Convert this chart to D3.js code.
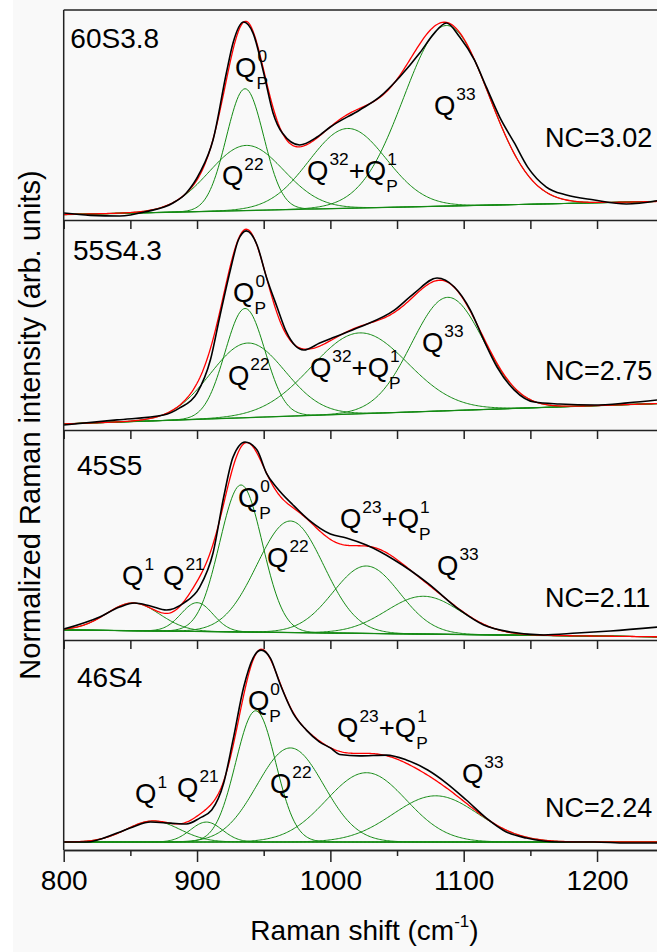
<!DOCTYPE html>
<html>
<head>
<meta charset="utf-8">
<script src="https://cdn.jsdelivr.net/npm/d3@7"></script>
<style>
  html, body { margin: 0; padding: 0; background: #fff; }
  svg { display: block; font-family: "Liberation Sans", Arial, sans-serif; }
</style>
</head>
<body>
<div id="chart"></div>
<script>
// Sample names and network connectivity per panel (top to bottom).
const samples = ["60S3.8", "55S4.3", "45S5", "46S4"];
const ncLabels = ["NC=3.02", "NC=2.75", "NC=2.11", "NC=2.24"];
const xTicks = [800, 900, 1000, 1100, 1200];
const xMinorTicks = [850, 950, 1050, 1150, 1250];

// Measured spectra: [Raman shift, normalized intensity].
const measured60 = [[800,0.033],[820,0.022],[842,0.019],[862,0.04],[882,0.081],[892,0.129],[902,0.224],[912,0.381],[922,0.70],[927,0.843],[935,0.943],[942,0.89],[950,0.70],[957,0.51],[964,0.414],[977,0.357],[990,0.395],[1000,0.443],[1022,0.524],[1037,0.586],[1052,0.681],[1067,0.795],[1078,0.89],[1087,0.938],[1097,0.871],[1108,0.762],[1117,0.633],[1127,0.49],[1138,0.367],[1148,0.252],[1162,0.157],[1177,0.119],[1198,0.095],[1222,0.076],[1250,0.097]];
const measured55 = [[800,0.024],[840,0.048],[875,0.071],[887,0.105],[900,0.176],[910,0.333],[917,0.538],[925,0.762],[931,0.905],[937,0.948],[945,0.881],[952,0.729],[960,0.586],[967,0.467],[980,0.381],[992,0.414],[1000,0.435],[1022,0.49],[1048,0.571],[1063,0.652],[1080,0.724],[1093,0.681],[1105,0.571],[1115,0.429],[1125,0.30],[1138,0.19],[1153,0.133],[1172,0.124],[1198,0.119],[1223,0.129],[1250,0.146]];
const measured45 = [[800,0.052],[827,0.11],[842,0.157],[853,0.176],[865,0.162],[877,0.143],[890,0.176],[902,0.252],[912,0.414],[920,0.681],[927,0.871],[936,0.943],[945,0.905],[952,0.795],[960,0.724],[972,0.643],[984,0.571],[1000,0.505],[1012,0.486],[1027,0.452],[1048,0.381],[1073,0.271],[1097,0.143],[1115,0.071],[1135,0.038],[1160,0.024],[1185,0.033],[1210,0.043],[1250,0.064]];
const measured46 = [[800,0.038],[817,0.038],[840,0.081],[852,0.11],[865,0.133],[880,0.128],[892,0.124],[902,0.152],[911,0.19],[920,0.319],[927,0.524],[935,0.776],[942,0.914],[948,0.952],[955,0.914],[962,0.795],[972,0.652],[982,0.571],[992,0.514],[1000,0.486],[1007,0.455],[1022,0.448],[1042,0.452],[1057,0.429],[1073,0.381],[1087,0.319],[1102,0.238],[1117,0.152],[1132,0.086],[1147,0.057],[1172,0.038],[1198,0.038],[1222,0.033],[1250,0.033]];

// Linear background: intensity at 800 and at 1250 cm-1.
const baselines = [[0.026, 0.089], [0.029, 0.127], [0.048, 0.015], [0.038, 0.038]];

// Fitted Gaussian bands: [centre (cm-1), height above background, sigma (cm-1)].
const bands60 = [[936, 0.58, 14], [937, 0.31, 28], [1013, 0.38, 29], [1087, 0.86, 32]];
const bands55 = [[936, 0.52, 15], [938, 0.355, 28], [1022, 0.385, 36], [1088, 0.54, 27]];
const bands45 = [[852, 0.132, 20], [900, 0.137, 12], [933, 0.70, 16], [970, 0.531, 25], [1027, 0.321, 25], [1070, 0.18, 28]];
const bands46 = [[867, 0.1, 20], [907, 0.095, 12], [944, 0.625, 15], [970, 0.448, 25], [1027, 0.33, 30], [1079, 0.22, 32]];

// Band assignments (^{} superscript, _{} subscript).
const bandNames60 = ["Q^{0}_{P}", "Q^{22}", "Q^{32}+Q^{1}_{P}", "Q^{33}"];
const bandNames55 = ["Q^{0}_{P}", "Q^{22}", "Q^{32}+Q^{1}_{P}", "Q^{33}"];
const bandNames45 = ["Q^{1}", "Q^{21}", "Q^{0}_{P}", "Q^{22}", "Q^{23}+Q^{1}_{P}", "Q^{33}"];
const bandNames46 = ["Q^{1}", "Q^{21}", "Q^{0}_{P}", "Q^{22}", "Q^{23}+Q^{1}_{P}", "Q^{33}"];

// Where the text sits, in data coordinates (left edge, baseline).
const bandNamePos = [
    [[928.5, 0.681], [918.7, 0.167], [982.5, 0.19], [1077.7, 0.5]],
    [[927, 0.61], [923.2, 0.214], [984.7, 0.252], [1068.7, 0.371]],
    [[843.8, 0.262], [874.5, 0.262], [930.7, 0.633], [952.5, 0.348], [1007.2, 0.533], [1080, 0.31]],
    [[853.5, 0.224], [885, 0.252], [938.2, 0.667], [954.7, 0.271], [1005, 0.538], [1098.7, 0.319]]
];
const samplePos = [[805, 0.819], [807, 0.81], [810, 0.786], [810, 0.776]];
const ncPos = [[1161, 0.348], [1161, 0.238], [1161, 0.157], [1161, 0.157]];

const panels = [
    { measured: measured60, bands: bands60, names: bandNames60 },
    { measured: measured55, bands: bands55, names: bandNames55 },
    { measured: measured45, bands: bands45, names: bandNames45 },
    { measured: measured46, bands: bands46, names: bandNames46 }
];

// Chart dimensions.
const width = 657;
const height = 952;
const marginLeft = 63.7;
const panelTop = 10;
const panelHeight = 210;
const plotWidth = 600;
const green = "#138a13";
const frameColor = "#222";

const x = d3.scaleLinear().domain([800, 1250]).range([marginLeft, marginLeft + plotWidth]);

const svg = d3.select("#chart").append("svg")
    .attr("width", width)
    .attr("height", height);

svg.append("rect")
    .attr("x", 13).attr("y", 0)
    .attr("width", width - 13).attr("height", height)
    .attr("fill", "#f9f9f9");

// Draw text with superscripts / subscripts.
function richLabel(g, px, py, markup, size) {
    const parts = markup.match(/\^\{[^}]*\}(_\{[^}]*\})?|_\{[^}]*\}|[^^_]+/g);
    let cx = px;
    parts.forEach(part => {
        if (part[0] === "^" || part[0] === "_") {
            const sup = part.match(/\^\{([^}]*)\}/);
            const sub = part.match(/_\{([^}]*)\}/);
            let w = 0;
            if (sup) {
                const t = g.append("text")
                    .attr("x", cx + 1).attr("y", py - size * 0.55)
                    .attr("font-size", size * 0.63)
                    .text(sup[1]);
                w = Math.max(w, t.node().getComputedTextLength());
            }
            if (sub) {
                const t = g.append("text")
                    .attr("x", cx).attr("y", py + size * 0.44)
                    .attr("font-size", size * 0.63)
                    .text(sub[1]);
                w = Math.max(w, t.node().getComputedTextLength());
            }
            cx += w + 1;
        } else {
            const t = g.append("text")
                .attr("x", cx).attr("y", py)
                .attr("font-size", size)
                .text(part);
            cx += t.node().getComputedTextLength();
        }
    });
}

const grid = d3.range(800, 1250.5, 1);
const gauss = (b, v) => b[1] * Math.exp(-((v - b[0]) ** 2) / (2 * b[2] * b[2]));

panels.forEach((p, i) => {
    const top = panelTop + i * panelHeight;
    const bottom = top + panelHeight;
    const y = d3.scaleLinear().domain([0, 1]).range([bottom, top]);
    const bl = baselines[i];
    const base = v => bl[0] + (v - 800) / 450 * (bl[1] - bl[0]);

    svg.append("clipPath").attr("id", "clip" + i)
        .append("rect")
        .attr("x", marginLeft).attr("y", top)
        .attr("width", plotWidth).attr("height", panelHeight);

    const g = svg.append("g").attr("clip-path", `url(#clip${i})`);
    const line = d3.line().x(d => x(d[0])).y(d => y(d[1]));

    // Fitted components on top of the background.
    p.bands.forEach(b => {
        g.append("path")
            .datum(grid.map(v => [v, base(v) + gauss(b, v)]))
            .attr("d", line)
            .attr("fill", "none")
            .attr("stroke", green)
            .attr("stroke-width", 1);
    });

    // Background line.
    g.append("path")
        .datum([[800, base(800)], [1250, base(1250)]])
        .attr("d", line)
        .attr("fill", "none")
        .attr("stroke", green)
        .attr("stroke-width", 1.2);

    // Sum of the fit.
    g.append("path")
        .datum(grid.map(v => [v, base(v) + d3.sum(p.bands, b => gauss(b, v))]))
        .attr("d", line)
        .attr("fill", "none")
        .attr("stroke", "#ff0000")
        .attr("stroke-width", 1.3);

    // Measured spectrum.
    g.append("path")
        .datum(p.measured)
        .attr("d", line.curve(d3.curveMonotoneX))
        .attr("fill", "none")
        .attr("stroke", "#000")
        .attr("stroke-width", 1.6);

    // Texts.
    const tg = svg.append("g").attr("fill", "#000");
    tg.append("text")
        .attr("x", x(samplePos[i][0])).attr("y", y(samplePos[i][1]))
        .attr("font-size", 28)
        .text(samples[i]);
    tg.append("text")
        .attr("x", x(ncPos[i][0])).attr("y", y(ncPos[i][1]))
        .attr("font-size", 27)
        .text(ncLabels[i]);
    p.names.forEach((name, k) => {
        const pos = bandNamePos[i][k];
        richLabel(tg, x(pos[0]), y(pos[1]), name, 27.5);
    });

    // Panel separator with outward ticks (upper panels) or the real x axis.
    if (i < panels.length - 1) {
        svg.append("g")
            .attr("transform", `translate(0,${bottom})`)
            .call(d3.axisBottom(x).tickValues(xTicks.concat(xMinorTicks)).tickSize(9).tickSizeOuter(0).tickFormat(""))
            .call(ax => ax.selectAll("path, line").attr("stroke", frameColor).attr("stroke-width", 1.5));
    } else {
        svg.append("g")
            .attr("transform", `translate(0,${bottom})`)
            .call(d3.axisBottom(x).tickValues(xMinorTicks).tickSize(6).tickSizeOuter(0).tickFormat(""))
            .call(ax => ax.selectAll("path, line").attr("stroke", frameColor).attr("stroke-width", 1.5));
        svg.append("g")
            .attr("transform", `translate(0,${bottom})`)
            .call(d3.axisBottom(x).tickValues(xTicks).tickSize(12).tickSizeOuter(0).tickPadding(8).tickFormat(d3.format("d")))
            .call(ax => ax.selectAll("path, line").attr("stroke", frameColor).attr("stroke-width", 1.5))
            .call(ax => ax.selectAll("text")
                .attr("font-size", 28)
                .attr("font-family", "Liberation Sans, Arial, sans-serif")
                .attr("fill", "#000"));
    }
});

// Outer frame: top and left edges.
svg.append("line")
    .attr("x1", marginLeft).attr("x2", marginLeft + plotWidth)
    .attr("y1", panelTop).attr("y2", panelTop)
    .attr("stroke", frameColor).attr("stroke-width", 1.5);
svg.append("line")
    .attr("x1", marginLeft).attr("x2", marginLeft)
    .attr("y1", panelTop).attr("y2", panelTop + 4 * panelHeight)
    .attr("stroke", frameColor).attr("stroke-width", 1.5);

// X axis title.
const xt = svg.append("text")
    .attr("x", 364.5).attr("y", 940)
    .attr("text-anchor", "middle")
    .attr("font-size", 28)
    .attr("fill", "#000");
xt.append("tspan").text("Raman shift (cm");
xt.append("tspan").attr("dy", -13).attr("font-size", 17).text("-1");
xt.append("tspan").attr("dy", 13).text(")");

// Y axis title.
svg.append("text")
    .attr("transform", "rotate(-90)")
    .attr("x", -425).attr("y", 40)
    .attr("text-anchor", "middle")
    .attr("font-size", 29)
    .attr("fill", "#000")
    .text("Normalized Raman intensity (arb. units)");
</script>
</body>
</html>
